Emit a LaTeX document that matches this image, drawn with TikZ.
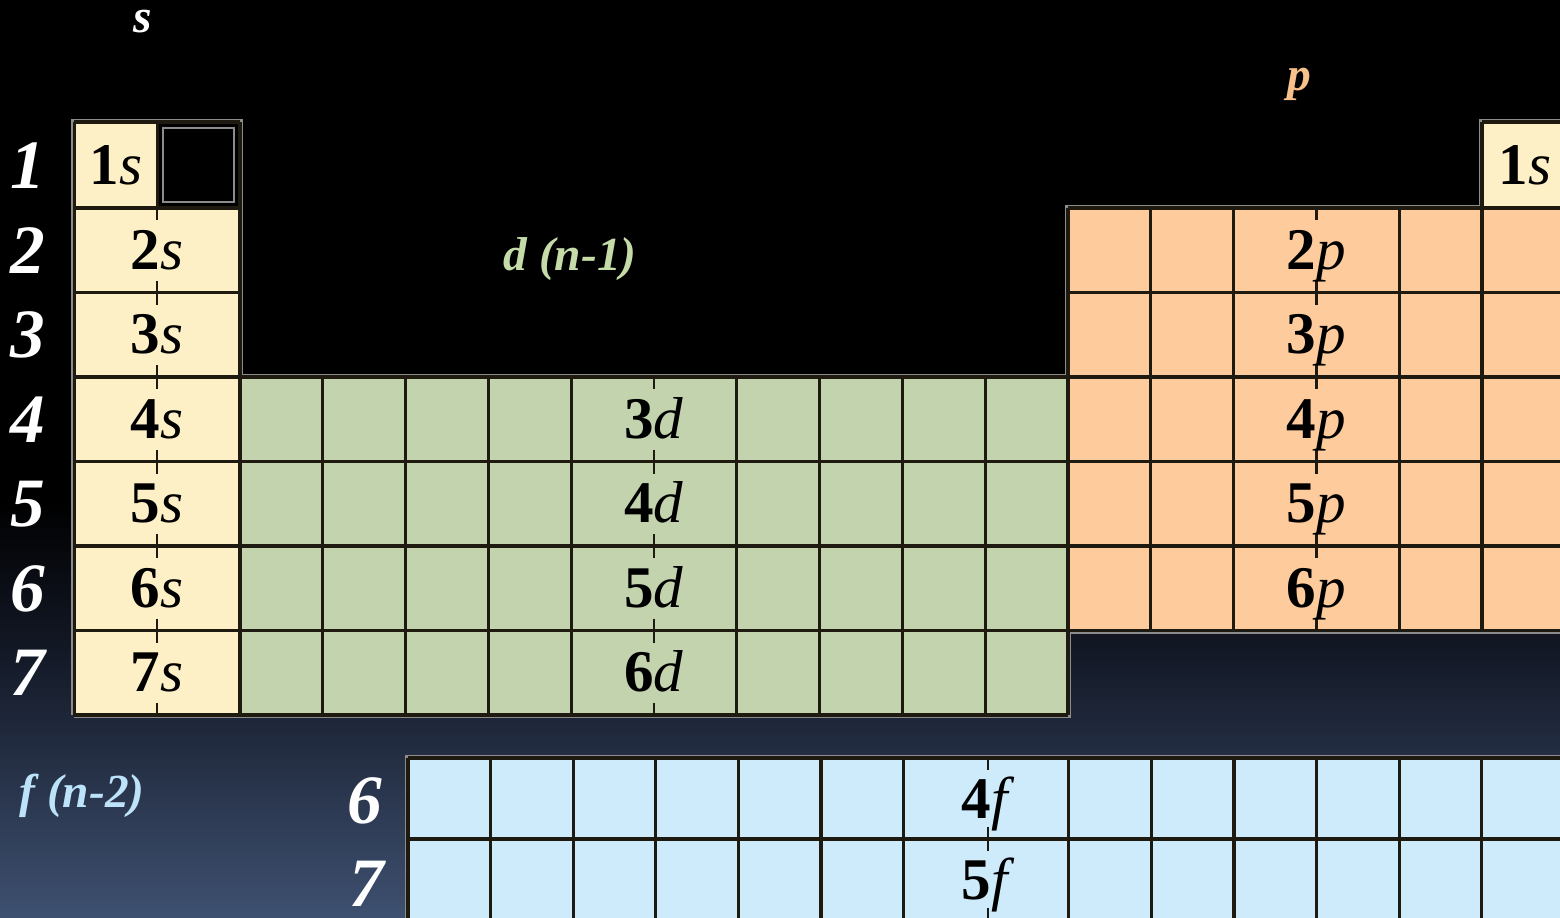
\documentclass[tikz,border=0pt]{standalone}
\usepackage{fontspec}
\setmainfont{Liberation Serif}
\usetikzlibrary{positioning}

\definecolor{sblock}{HTML}{FDEFC6}
\definecolor{dblock}{HTML}{C2D3AE}
\definecolor{pblock}{HTML}{FECB9C}
\definecolor{fblock}{HTML}{CDEBFB}
\definecolor{edgegray}{HTML}{8C8C8C}
\definecolor{inkdark}{HTML}{1E1A10}
\definecolor{bgmid}{HTML}{141A28}
\definecolor{bgbot}{HTML}{3E5070}
\definecolor{plabel}{HTML}{F8C08A}
\definecolor{dlabel}{HTML}{C6DCA8}
\definecolor{flabel}{HTML}{BDE3FA}

\begin{document}
\begin{tikzpicture}[x=0.01cm, y=-0.01cm,
    rownum/.style={text=white, font=\fontsize{19.7}{22}\selectfont\bfseries\itshape, inner sep=0pt, text height=13.3pt, text depth=0pt},
    blocklab/.style={font=\fontsize{13.5}{16}\selectfont\bfseries\itshape, inner sep=0pt, anchor=base},
    orb/.style={text=black, font=\fontsize{16.8}{19}\selectfont, inner sep=0pt, text height=11.4pt, text depth=0pt},
    blockedge/.style={draw=edgegray, line width=1.7pt},
    gridline/.style={draw=inkdark, line width=0.9pt},
    orbtick/.style={draw=inkdark, line width=0.7pt}
]
    \useasboundingbox (0,0) rectangle (1560,917);
    \clip (0,0) rectangle (1560,917);

    % background
    \fill[black] (0,0) rectangle (1560,917);
    \shade[top color=black, bottom color=bgmid] (0,500) rectangle (1560,661);
    \shade[top color=bgmid, bottom color=bgbot] (0,660) rectangle (1560,917);

    % gray rims, then the block fills
    \draw[blockedge] (74.4,715) -- (74.4,122) -- (240,122) -- (240,377) -- (1068,377) -- (1068,208)
        -- (1482,208) -- (1482,122) -- (1570,122);
    \draw[blockedge] (74.4,715) -- (1068,715) -- (1068,630.5) -- (1570,630.5);
    \draw[blockedge] (1570,758) -- (408,758) -- (408,930);

    \fill[sblock] (74.4,122) rectangle (157.2,208);
    \fill[black] (157.2,122) rectangle (240,208);
    \fill[sblock] (74.4,208) rectangle (240,715);
    \fill[dblock] (240,377) rectangle (1068,715);
    \fill[pblock] (1068,208) rectangle (1570,630.5);
    \fill[sblock] (1482,122) rectangle (1570,208);
    \fill[fblock] (408,758) rectangle (1570,930);
    \draw[edgegray, line width=0.6pt] (163,128) rectangle (234,202);

    % s block
    \foreach \y in {122,208,292.5,377,461.5,546,630.5,715}
        \draw[gridline] (74.4,\y) -- (240,\y);
    \draw[gridline] (74.4,122) -- (74.4,715);
    \draw[gridline] (240,122) -- (240,715);
    \draw[gridline] (157.2,122) -- (157.2,208);

    % d block
    \foreach \y in {461.5,546,630.5,715}
        \draw[gridline] (240,\y) -- (1068,\y);
    \draw[gridline] (240,377) -- (1068,377);
    \foreach \i in {1,2,3,4,6,7,8,9,10}
        \draw[gridline] ({240+82.8*\i},377) -- ({240+82.8*\i},715);

    % p block
    \foreach \y in {208,292.5,377,461.5,546,630.5}
        \draw[gridline] (1068,\y) -- (1570,\y);
    \foreach \i in {0,1,2,4,5}
        \draw[gridline] ({1068+82.8*\i},208) -- ({1068+82.8*\i},630.5);
    \draw[gridline] (1482,122) -- (1570,122);
    \draw[gridline] (1482,122) -- (1482,208);

    % f block
    \foreach \y in {758,839}
        \draw[gridline] (408,\y) -- (1570,\y);
    \foreach \i in {0,1,2,3,4,5,6,8,9,10,11,12,13}
        \draw[gridline] ({408+82.6*\i},758) -- ({408+82.6*\i},930);

    % half ticks
    \foreach \x/\t/\b in {157.2/208/715, 654/377/715, 1316.4/208/630.5, 988/758/920} {
        \draw[orbtick] (\x,\t) -- +(0,12);
        \draw[orbtick] (\x,\b) -- +(0,-12);
    }
    \foreach \y in {292.5,377,461.5,546,630.5}
        \draw[orbtick] (157.2,{\y-12}) -- (157.2,{\y+12});
    \foreach \y in {461.5,546,630.5}
        \draw[orbtick] (654,{\y-12}) -- (654,{\y+12});
    \foreach \y in {292.5,377,461.5,546}
        \draw[orbtick] (1316.4,{\y-12}) -- (1316.4,{\y+12});
    \draw[orbtick] (988,827) -- (988,851);

    % orbital labels
    \node[orb] (s1) at (115.8,164) {\textbf{1}\textit{s}};
    \node[orb] (he) at (1525,164) {\textbf{1}\textit{s}};
    \foreach \n in {2,...,7}
        \node[orb] (s\n) at (157.2,{249+84.5*(\n-2)}) {\textbf{\n}\textit{s}};
    \foreach \n/\r in {3/4,4/5,5/6,6/7}
        \node[orb] (d\n) at (654,{249+84.5*(\r-2)}) {\textbf{\n}\textit{d}};
    \foreach \n in {2,...,6}
        \node[orb] (p\n) at (1316.4,{249+84.5*(\n-2)}) {\textbf{\n}\textit{p}};
    \node[orb] (f4) at (988,798) {\textbf{4}\textit{f}};
    \node[orb] (f5) at (988,879) {\textbf{5}\textit{f}};

    % period numbers
    \node[rownum] (row1) at (28,165) {1};
    \foreach \n in {2,...,7}
        \node[rownum] (row\n) at (28,{250+84.5*(\n-2)}) {\n};
    \node[rownum] (frow6) at (365,800) {6};
    \node[rownum] (frow7) at (367,883) {7};

    % block names
    \node[blocklab, text=white] (sname) at (143,32) {s};
    \node[blocklab, text=plabel] (pname) at (1299,90) {p};
    \node[blocklab, text=dlabel] (dname) at (570,270) {d (n-1)};
    \node[blocklab, text=flabel] (fname) at (82,807) {f (n-2)};
\end{tikzpicture}
\end{document}
